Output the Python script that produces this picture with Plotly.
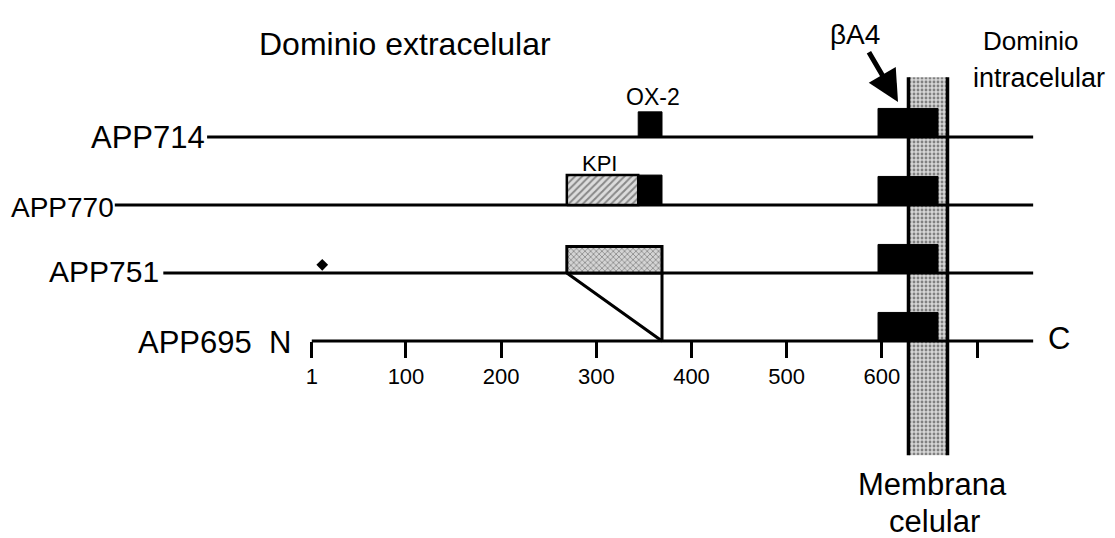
import plotly.graph_objects as go

# ---------------- data ----------------
isoforms = ["APP714", "APP770", "APP751", "APP695"]
line_start = [-109, -206, -155, 1]          # residue where each drawn line begins
line_end = [759, 759, 759, 759]             # residue where each drawn line ends
ox2_domain = [344, 369]                     # OX-2 domain (residues)
ox2_isoforms = ["APP714", "APP770"]
kpi_domain = [269, 344]                     # KPI domain (residues)
kpi_ox2_751 = [269, 369]                    # boxed region in APP751
deleted_region = [269, 369]                 # region absent in APP695
ba4_domain = [596, 659]                     # beta-A4 region
membrane = [628, 669]                       # membrane span
tick_vals = [1, 100, 200, 300, 400, 500, 600, 700]
tick_text = ["1", "100", "200", "300", "400", "500", "600", ""]
dot_residue = [12]                          # small mark on APP751

# ---------------- layout helpers ----------------
OFF = 8                      # page body margin of the browser
W, H = 1115 - OFF, 538 - OFF
X_RANGE = [-318.2, 845.0]
Y_RANGE = [5.897, -1.897]    # row units, reversed (row 0 at top)
FONT = "Arial, Liberation Sans, Helvetica, sans-serif"
row = {name: i for i, name in enumerate(isoforms)}


def px(xp):
    return (xp - OFF) / W


def py(yp):
    return 1 - (yp - OFF) / H


def rect(x0, x1, r, h):
    return [x0, x1, x1, x0, x0], [r, r, r - h, r - h, r]


fig = go.Figure()

# membrane band (stippled)
mx, my = rect(membrane[0], membrane[1], 4.68, 5.56)
fig.add_trace(go.Scatter(
    x=mx, y=my, mode="none", fill="toself", fillcolor="#bdbdbd",
    fillpattern=dict(shape=".", fgcolor="#2a2a2a", bgcolor="#d6d6d6", size=4, solidity=0.4),
    hoverinfo="skip", showlegend=False))

# isoform lines
for name, s, e in zip(isoforms, line_start, line_end):
    r = row[name]
    fig.add_trace(go.Scatter(x=[s, e], y=[r, r], mode="lines",
                             line=dict(color="black", width=3),
                             hoverinfo="skip", showlegend=False))

# OX-2 boxes
for name in ox2_isoforms:
    r = row[name]
    h = 0.37 if name == "APP714" else 0.44
    bx, by = rect(ox2_domain[0], ox2_domain[1], r, h)
    fig.add_trace(go.Scatter(x=bx, y=by, mode="lines", fill="toself",
                             fillcolor="black", line=dict(color="black", width=1),
                             hoverinfo="skip", showlegend=False))

# KPI box in APP770 (hatched)
bx, by = rect(kpi_domain[0], kpi_domain[1], row["APP770"], 0.44)
fig.add_trace(go.Scatter(x=bx, y=by, mode="lines", fill="toself", fillcolor="#c8c8c8",
                         fillpattern=dict(shape="/", fgcolor="#333333", bgcolor="#dcdcdc",
                                          size=5, solidity=0.4),
                         line=dict(color="black", width=2.5),
                         hoverinfo="skip", showlegend=False))

# KPI+OX-2 box in APP751 (stippled, outlined)
bx, by = rect(kpi_ox2_751[0], kpi_ox2_751[1], row["APP751"], 0.39)
fig.add_trace(go.Scatter(x=bx, y=by, mode="lines", fill="toself", fillcolor="#c0c0c0",
                         fillpattern=dict(shape="x", fgcolor="#333333", bgcolor="#d4d4d4",
                                          size=4, solidity=0.35),
                         line=dict(color="black", width=3),
                         hoverinfo="skip", showlegend=False))

# deletion triangle between APP751 and APP695
fig.add_trace(go.Scatter(
    x=[deleted_region[0], deleted_region[1], deleted_region[1]],
    y=[row["APP751"], row["APP695"], row["APP751"]],
    mode="lines", line=dict(color="black", width=3),
    hoverinfo="skip", showlegend=False))

# beta-A4 boxes
for name in isoforms:
    r = row[name]
    bx, by = rect(ba4_domain[0], ba4_domain[1], r, 0.42)
    fig.add_trace(go.Scatter(x=bx, y=by, mode="lines", fill="toself",
                             fillcolor="black", line=dict(color="black", width=1),
                             hoverinfo="skip", showlegend=False))

# membrane borders
for xb in membrane:
    fig.add_trace(go.Scatter(x=[xb, xb], y=[-0.88, 4.68], mode="lines",
                             line=dict(color="black", width=3.5),
                             hoverinfo="skip", showlegend=False))

# small mark on APP751
fig.add_trace(go.Scatter(x=dot_residue, y=[row["APP751"] - 0.12], mode="markers",
                         marker=dict(symbol="diamond", size=9, color="black"),
                         hoverinfo="skip", showlegend=False))

# ---------------- annotations ----------------
ann = []


def text(t, xp, yp, size, xanchor="center"):
    ann.append(dict(text=t, x=px(xp), y=py(yp), xref="paper", yref="paper",
                    xanchor=xanchor, yanchor="middle", showarrow=False,
                    font=dict(family=FONT, size=size, color="black")))


# isoform labels (right-aligned to line starts)
label_pos = {"APP714": (207, 137, 31), "APP770": (116, 207, 28), "APP751": (161, 271, 30)}
for name, (xr, yc, fs) in label_pos.items():
    text(name, xr, yc, fs, "right")
text("APP695  N", 293, 342, 31, "right")
text("C", 1046, 338, 31, "left")

text("Dominio extracelular", 405, 44, 32)
text("Dominio", 1030, 41, 26)
text("intracelular", 1039, 78, 27)
text("Membrana", 932, 484, 31)
text("celular", 934, 521, 31)
text("OX-2", 653, 97, 23)
text("KPI", 599, 163, 22)
text("βA4", 855, 35, 28)

# arrow to beta-A4
ann.append(dict(x=617, y=-0.515, xref="x", yref="y",
                ax=585.5, ay=-1.27, axref="x", ayref="y",
                text="", showarrow=True, arrowhead=2, arrowsize=1.25,
                arrowwidth=5, arrowcolor="black"))

fig.update_layout(
    width=W, height=H,
    margin=dict(l=0, r=0, t=0, b=0),
    paper_bgcolor="white", plot_bgcolor="white",
    showlegend=False,
    annotations=ann,
    xaxis=dict(range=X_RANGE, anchor="free", position=1 - (341 - OFF) / H,
               showgrid=False, zeroline=False, showline=False,
               tickmode="array", tickvals=tick_vals, ticktext=tick_text,
               ticks="outside", ticklen=16, tickwidth=3, tickcolor="black",
               tickfont=dict(family=FONT, size=22, color="black"),
               fixedrange=True),
    yaxis=dict(range=Y_RANGE, visible=False, showgrid=False, zeroline=False,
               fixedrange=True),
)

fig.write_html("out.html")
